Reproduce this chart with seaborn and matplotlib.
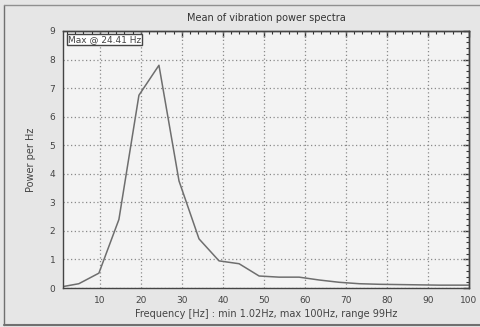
import pandas as pd
import numpy as np
import matplotlib.pyplot as plt
import seaborn as sns
from matplotlib.ticker import MultipleLocator, NullFormatter

# Spectrum values
freq_hz = [1.02, 4.88, 9.77, 14.65, 19.53, 24.41, 29.30, 34.18, 39.06, 43.95,
           48.83, 53.71, 58.59, 63.48, 68.36, 73.24, 78.13, 83.01, 87.89,
           92.77, 97.66, 100.0]
power = [0.05, 0.15, 0.52, 2.4, 6.75, 7.8, 3.75, 1.72, 0.95, 0.85,
         0.42, 0.38, 0.38, 0.28, 0.2, 0.15, 0.13, 0.12, 0.11,
         0.1, 0.1, 0.1]

df = pd.DataFrame({'freq': freq_hz, 'power': power})

sns.set_style("white")
plt.rcParams['font.family'] = ['DejaVu Sans']

fig = plt.figure(figsize=(4.81, 3.27), dpi=100, facecolor='#e6e6e6')
ax = fig.add_axes([63 / 481, 39 / 327, 406 / 481, 257 / 327])
ax.set_facecolor('#f3f3f3')

# Outer panel border
fig.add_artist(plt.Line2D([4 / 481, 4 / 481], [2 / 327, 1 - 5 / 327], color='#707070', lw=1, transform=fig.transFigure))
fig.add_artist(plt.Line2D([4 / 481, 1], [1 - 5 / 327, 1 - 5 / 327], color='#909090', lw=1, transform=fig.transFigure))
fig.add_artist(plt.Line2D([4 / 481, 1], [2 / 327, 2 / 327], color='#707070', lw=1.5, transform=fig.transFigure))

sns.lineplot(data=df, x='freq', y='power', color='#6e6e6e', lw=1.1, ax=ax)

ax.set_xlim(1.02, 100)
ax.set_ylim(0, 9)
ax.set_xticks(range(10, 101, 10))
ax.xaxis.set_minor_locator(MultipleLocator(2))
ax.yaxis.set_major_locator(MultipleLocator(1))
ax.yaxis.set_minor_locator(MultipleLocator(0.2))
ax.grid(True, which='major', linestyle=(0, (1, 2)), color='#8a8a8a', lw=0.9)

ax.tick_params(which='major', direction='inout', length=7, width=1, color='#333333',
               labelsize=6.5, labelcolor='#444444', pad=2)
ax.tick_params(which='minor', direction='inout', length=4, width=0.8, color='#333333')

# inward ticks on top and right
top = ax.secondary_xaxis('top')
top.set_xticks(range(10, 101, 10))
top.xaxis.set_minor_locator(MultipleLocator(2))
top.xaxis.set_major_formatter(NullFormatter())
top.tick_params(which='major', direction='in', length=4, width=1, color='#333333')
top.tick_params(which='minor', direction='in', length=2.5, width=0.8, color='#333333')
right = ax.secondary_yaxis('right')
right.yaxis.set_major_locator(MultipleLocator(1))
right.yaxis.set_minor_locator(MultipleLocator(0.2))
right.yaxis.set_major_formatter(NullFormatter())
right.tick_params(which='major', direction='in', length=4, width=1, color='#333333')
right.tick_params(which='minor', direction='in', length=2.5, width=0.8, color='#333333')
for a in (ax, top, right):
    for s in a.spines.values():
        s.set_color('#444444')
        s.set_linewidth(1)

ax.set_title('Mean of vibration power spectra', fontsize=7, color='#333333', pad=7)
ax.set_xlabel('Frequency [Hz] : min 1.02Hz, max 100Hz, range 99Hz', fontsize=7, color='#444444', labelpad=3)
ax.set_ylabel('Power per Hz', fontsize=7, color='#444444', labelpad=10)

ax.text(0.012, 0.985, 'Max @ 24.41 Hz', transform=ax.transAxes, ha='left', va='top',
        fontsize=6.5, color='#444444', zorder=5,
        bbox=dict(boxstyle='square,pad=0.15', facecolor='white', edgecolor='#444444', lw=1))

fig.savefig('out.png', dpi=100, facecolor=fig.get_facecolor())
